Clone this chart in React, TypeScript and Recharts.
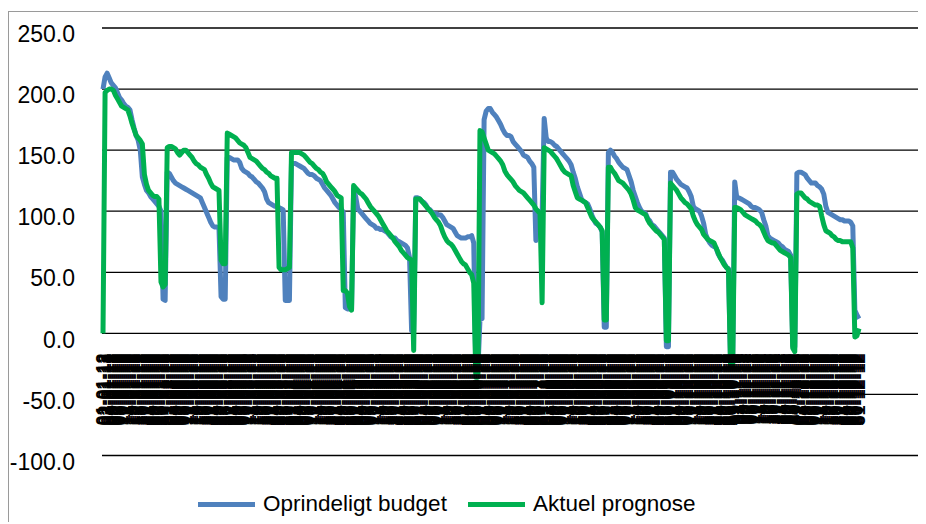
import { CartesianGrid, Legend, Line, LineChart, XAxis, YAxis } from "recharts";

// Daglige værdier 2012, én række pr. måned
const MONTHS = ["01", "02", "03", "04", "05", "06", "07", "08", "09", "10", "11", "12"];
const MONTH_DAYS = [31, 29, 31, 30, 31, 30, 31, 31, 30, 31, 30, 31];
const YEAR = "12";

const Y_TICKS = [-100, -50, 0, 50, 100, 150, 200, 250];

const SERIES_ORDER = ["budget", "prognose"];

const budget = [
  200, 210, 213, 209, 205, 203, 201, 197, 193, 191, 188, 186, 185, 183, 175, 168, 162, 158, 150, 128, 122, 117, 115, 112, 110, 108, 106, 104, 100, 28, 27,
  132, 131, 128, 125, 123, 122, 121, 120, 119, 118, 117, 116, 115, 114, 113, 112, 111, 107, 103, 99, 95, 91, 88, 87, 87, 86, 30, 28, 28,
  144, 144, 143, 142, 142, 142, 140, 135, 133, 132, 131, 129, 128, 126, 124, 123, 121, 119, 116, 110, 107, 106, 105, 104, 104, 103, 102, 101, 27, 27, 27,
  139, 139, 139, 138, 137, 136, 135, 133, 131, 130, 130, 129, 127, 126, 125, 122, 119, 117, 115, 113, 110, 107, 105, 103, 102, 99, 21, 20, 20, 20,
  118, 112, 102, 100, 98, 96, 94, 92, 90, 89, 88, 86, 86, 85, 85, 84, 83, 81, 79, 78, 78, 76, 75, 74, 73, 72, 70, 62, 2, 2, 111,
  111, 110, 108, 107, 105, 102, 101, 99, 98, 98, 97, 97, 95, 92, 89, 88, 87, 86, 83, 80, 79, 78, 78, 78, 79, 79, 80, 74, -30, -30,
  11, 12, 175, 182, 184, 184, 181, 179, 177, 174, 171, 167, 164, 162, 162, 161, 157, 155, 153, 151, 149, 146, 145, 144, 141, 139, 136, 76, 100, 98, 96,
  176, 160, 157, 157, 156, 154, 153, 151, 149, 147, 145, 143, 141, 138, 132, 127, 120, 115, 110, 108, 107, 106, 102, 97, 93, 90, 89, 87, 83, 5, 5,
  148, 150, 148, 145, 143, 140, 138, 136, 135, 134, 129, 124, 117, 112, 107, 103, 100, 99, 98, 94, 92, 89, 88, 86, 84, 82, 80, 78, -11, -11,
  132, 132, 129, 126, 124, 122, 121, 120, 119, 116, 112, 104, 102, 101, 100, 96, 90, 81, 77, 74, 72, 71, 70, 65, 62, 60, 57, 54, 53, -27, -27,
  124, 111, 111, 110, 109, 108, 107, 106, 104, 103, 103, 102, 101, 99, 93, 88, 80, 78, 77, 76, 75, 74, 72, 71, 69, 68, 67, 64, -10, -11,
  131, 132, 132, 131, 130, 127, 125, 123, 123, 123, 121, 120, 118, 114, 104, 99, 98, 97, 96, 95, 94, 93, 93, 92, 92, 92, 91, 88, 19, 15, 12,
];

const prognose = [
  0, 197, 199, 200, 200, 199, 195, 192, 189, 186, 185, 184, 183, 178, 172, 167, 162, 160, 158, 155, 130, 122, 117, 115, 113, 112, 112, 110, 42, 38, 40,
  152, 153, 153, 152, 151, 148, 146, 148, 150, 150, 148, 146, 144, 141, 139, 138, 136, 135, 134, 130, 127, 123, 120, 119, 118, 117, 60, 57, 57,
  164, 163, 162, 161, 160, 158, 156, 155, 154, 152, 148, 144, 143, 142, 141, 139, 137, 135, 134, 132, 131, 129, 128, 127, 127, 54, 52, 52, 52, 53, 54,
  148, 148, 148, 148, 148, 147, 146, 144, 142, 140, 139, 137, 135, 134, 132, 131, 128, 124, 122, 120, 118, 116, 113, 112, 111, 35, 35, 33, 22, 19,
  121, 119, 117, 115, 114, 112, 110, 107, 104, 102, 100, 98, 96, 93, 90, 87, 84, 82, 80, 78, 75, 73, 71, 68, 66, 64, 62, 61, 60, -14, 110,
  110, 110, 108, 106, 104, 102, 100, 98, 95, 93, 91, 88, 83, 79, 76, 74, 73, 71, 68, 65, 62, 59, 57, 56, 53, 50, 48, 41, -36, -36,
  166, 165, 160, 155, 150, 149, 148, 147, 145, 143, 141, 138, 133, 130, 128, 126, 124, 121, 119, 117, 116, 115, 113, 111, 109, 107, 105, 102, 100, 98, 25,
  152, 151, 150, 149, 147, 145, 143, 140, 137, 134, 132, 131, 130, 129, 121, 116, 111, 110, 109, 108, 107, 103, 99, 95, 93, 91, 89, 87, 84, 11, 11,
  136, 136, 133, 131, 128, 125, 124, 123, 121, 119, 117, 114, 109, 103, 101, 100, 99, 98, 97, 93, 90, 88, 86, 84, 83, 81, 79, 77, -6, -6,
  123, 121, 119, 117, 114, 111, 109, 107, 106, 104, 102, 96, 92, 89, 87, 85, 81, 79, 77, 76, 75, 74, 70, 66, 62, 59, 56, 54, 52, -27, -27,
  103, 103, 102, 101, 99, 97, 96, 95, 94, 93, 92, 90, 89, 87, 83, 79, 76, 75, 74, 74, 72, 70, 68, 67, 66, 65, 64, 62, -12, -15,
  114, 115, 115, 113, 111, 110, 108, 107, 106, 105, 105, 104, 96, 89, 84, 83, 82, 80, 79, 77, 76, 76, 75, 75, 75, 75, 75, 70, -3, -2, 4,
];

const labels = MONTHS.flatMap((m, i) =>
  Array.from({ length: MONTH_DAYS[i] }, (_, d) => `${String(d + 1).padStart(2, "0")}-${m}-${YEAR}`)
);

const chartData = labels.map((label, i) => ({
  label,
  budget: budget[i],
  prognose: prognose[i],
}));

const WIDTH = 914;
const HEIGHT = 512;
const MARGIN = { top: 16, right: 5, bottom: 38.5, left: 0 };
const X_AXIS_HEIGHT = 30;
const PLOT_HEIGHT = HEIGHT - MARGIN.top - MARGIN.bottom - X_AXIS_HEIGHT;
// kategoriaksen krydser ved 0, så datoerne står lige under nul-linjen
const ZERO_Y = MARGIN.top + (PLOT_HEIGHT * 250) / 350;

function DateTick({ x, payload }: any) {
  const y = ZERO_Y + 20;
  return (
    <text
      x={x}
      y={y}
      transform={`rotate(-90 ${x} ${y})`}
      textAnchor="end"
      dy="0.355em"
      fontSize={18}
      fontWeight="bold"
      fill="#000"
    >
      {payload.value}
    </text>
  );
}

function ValueTick({ x, y, payload }: any) {
  return (
    <text x={x} y={y + 6} textAnchor="end" dy="0.355em" fontSize={23} fill="#000">
      {Number(payload.value).toFixed(1)}
    </text>
  );
}

function LegendRow({ payload }: any) {
  const items = [...(payload || [])].sort(
    (a: any, b: any) => SERIES_ORDER.indexOf(a.dataKey) - SERIES_ORDER.indexOf(b.dataKey)
  );
  return (
    <div style={{ display: "flex", alignItems: "center", height: 24, paddingLeft: 189, fontSize: 22.5 }}>
      {items.map((entry: any) => (
        <div key={entry.value} style={{ display: "flex", alignItems: "center", width: 270 }}>
          <span style={{ display: "inline-block", width: 57, height: 5, background: entry.color, marginRight: 8 }} />
          <span style={{ color: "#000", whiteSpace: "nowrap" }}>{entry.value}</span>
        </div>
      ))}
    </div>
  );
}

export default function App() {
  return (
    <div
      style={{
        position: "relative",
        top: 3,
        width: WIDTH,
        height: HEIGHT,
        border: "1px solid #9a9a9a",
        fontFamily: "'Liberation Sans', Arial, sans-serif",
        background: "#fff",
      }}
    >
      <LineChart width={WIDTH} height={HEIGHT} data={chartData} margin={MARGIN}>
        <CartesianGrid vertical={false} stroke="#000" strokeWidth={1.3} />
        <XAxis
          dataKey="label"
          interval={0}
          height={X_AXIS_HEIGHT}
          axisLine={false}
          tickLine={false}
          padding={{ left: 1, right: 59 }}
          tick={<DateTick />}
        />
        <YAxis
          type="number"
          domain={[-100, 250]}
          ticks={Y_TICKS}
          interval={0}
          width={93}
          axisLine={false}
          tickLine={false}
          tickSize={0}
          tickMargin={27}
          tick={<ValueTick />}
        />
        <Legend
          layout="horizontal"
          verticalAlign="middle"
          align="center"
          itemSorter="dataKey"
          content={<LegendRow />}
          wrapperStyle={{ top: 480, left: 0, width: WIDTH, height: 24 }}
        />
        <Line
          type="linear"
          dataKey="budget"
          name="Oprindeligt budget"
          stroke="#4F81BD"
          strokeWidth={5}
          strokeLinejoin="round"
          dot={false}
          activeDot={false}
          isAnimationActive={false}
          zIndex={600}
        />
        <Line
          type="linear"
          dataKey="prognose"
          name="Aktuel prognose"
          stroke="#00B050"
          strokeWidth={5}
          strokeLinejoin="round"
          dot={false}
          activeDot={false}
          isAnimationActive={false}
          zIndex={601}
        />
      </LineChart>
    </div>
  );
}
